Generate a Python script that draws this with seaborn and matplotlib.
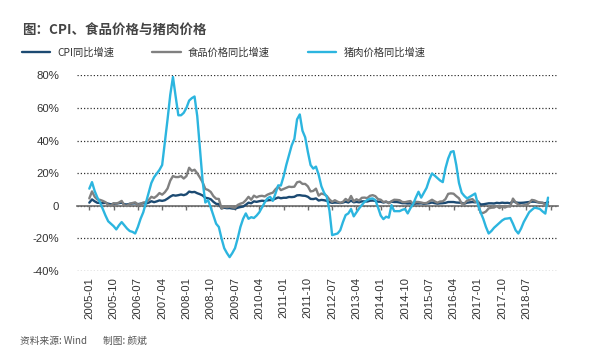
import matplotlib
matplotlib.use("Agg")
import matplotlib.pyplot as plt
import numpy as np
import pandas as pd
import seaborn as sns

# ---------------- data ----------------
months = pd.period_range("2005-01", "2019-03", freq="M").strftime("%Y-%m").tolist()

cpi = [
    1.9, 3.9, 2.7, 1.8, 1.8, 1.6, 1.8, 1.3, 0.9, 1.2, 1.3, 1.6,
    1.9, 0.9, 0.8, 1.2, 1.4, 1.5, 1.0, 1.3, 1.5, 1.4, 1.9, 2.8,
    2.2, 2.7, 3.3, 3.0, 3.4, 4.4, 5.6, 6.5, 6.2, 6.5, 6.9, 6.5,
    7.1, 8.7, 8.3, 8.5, 7.7, 7.1, 6.3, 4.9, 4.6, 4.0, 2.4, 1.2,
    1.0, -1.6, -1.2, -1.5, -1.4, -1.7, -1.8, -1.2, -0.8, -0.5, 0.6, 1.9,
    1.5, 2.7, 2.4, 2.8, 3.1, 2.9, 3.3, 3.5, 3.6, 4.4, 5.1, 4.6,
    4.9, 4.9, 5.4, 5.3, 5.5, 6.4, 6.5, 6.2, 6.1, 5.5, 4.2, 4.1,
    4.5, 3.2, 3.6, 3.4, 3.0, 2.2, 1.8, 2.0, 1.9, 1.7, 2.0, 2.5,
    2.0, 3.2, 2.1, 2.4, 2.1, 2.7, 2.7, 2.6, 3.1, 3.2, 3.0, 2.5,
    2.5, 2.0, 2.4, 1.8, 2.5, 2.3, 2.3, 2.0, 1.6, 1.6, 1.4, 1.5,
    0.8, 1.4, 1.4, 1.5, 1.2, 1.4, 1.6, 2.0, 1.6, 1.3, 1.5, 1.6,
    1.8, 2.3, 2.3, 2.3, 2.0, 1.9, 1.8, 1.3, 1.9, 2.1, 2.3, 2.1,
    2.5, 0.8, 0.9, 1.2, 1.5, 1.5, 1.4, 1.8, 1.6, 1.9, 1.7, 1.8,
    1.5, 2.9, 2.1, 1.8, 1.8, 1.9, 2.1, 2.3, 2.5, 2.5, 2.2, 1.9,
    1.7, 1.5, 2.3,
]

food = [
    4.5, 8.8, 5.5, 3.8, 3.6, 3.0, 2.2, 0.6, 0.1, 1.6, 1.3, 2.0,
    3.0, 0.2, 0.1, 1.2, 1.7, 2.1, 0.7, 1.1, 2.0, 2.2, 3.5, 5.5,
    4.8, 6.0, 7.8, 6.8, 8.3, 10.6, 15.4, 18.2, 17.6, 17.6, 18.2, 16.7,
    18.2, 23.3, 21.4, 22.1, 19.9, 17.3, 14.4, 10.3, 9.7, 8.5, 5.9, 4.3,
    4.2, -1.7, -0.6, -0.9, -0.5, -1.0, -1.2, 0.5, 1.3, 1.8, 3.4, 5.5,
    3.7, 6.2, 5.2, 5.9, 6.1, 5.7, 6.8, 7.5, 8.0, 10.1, 11.7, 9.6,
    10.3, 11.0, 11.7, 11.5, 11.7, 14.4, 14.8, 13.4, 13.4, 11.9, 8.8, 9.1,
    10.5, 6.2, 7.5, 7.0, 6.0, 3.9, 2.4, 3.4, 2.5, 1.8, 2.4, 4.2,
    2.9, 6.0, 2.7, 4.0, 3.2, 4.9, 5.0, 4.7, 6.1, 6.5, 5.9, 4.1,
    3.7, 2.3, 2.7, 1.5, 2.8, 3.7, 3.6, 3.4, 2.3, 2.2, 2.6, 2.9,
    1.1, 2.4, 2.3, 2.0, 1.6, 1.7, 2.7, 3.7, 2.7, 1.9, 2.6, 2.7,
    4.1, 7.3, 7.6, 7.4, 5.9, 4.6, 1.3, 1.3, 3.2, 3.7, 4.1, 2.4,
    2.7, -4.3, -4.4, -3.5, -1.6, -1.2, -1.1, -0.2, -1.4, -0.4, -1.1, -0.4,
    -0.5, 4.4, 2.1, 0.7, 0.1, 0.3, 0.5, 1.7, 3.6, 3.3, 2.5, 1.9,
    1.9, 0.7, 1.0,
]

pork = [
    10.5, 14.5, 9, 5, 2, -2, -6, -9.5, -11, -12.5, -14.5, -12,
    -10, -12, -14, -15.5, -16, -17, -13, -8, -4, 2, 8, 14,
    17.5, 19.8, 22, 25, 39, 53, 68, 79, 67, 55.5, 55.5, 57,
    60, 64.5, 66, 67, 55, 35, 15, 2, 3.5, -1, -6, -11,
    -13, -20, -26, -29, -31.5, -29, -26, -20, -13, -8, -4.7, -8,
    -7, -7.5, -6, -4, -1, 2, 4.5, 5.5, 3, 7.5, 12.5, 12.4,
    18, 25, 31, 37, 41, 53, 56, 46, 42, 33, 25, 22.8,
    24, 19, 12, 8, 5.5, -3, -18, -17.5, -17, -15, -10, -5.7,
    -4.7, -2, -6.5, -4, -1.6, 0.5, 2.4, 3.5, 4.3, 4.5, 3.5, -1,
    -6, -8.2, -6.7, -7.3, 0.4, -3.3, -3.3, -3.3, -2.5, -2, -4.7, -1.5,
    1, 5, 8.6, 5, 8, 11, 16, 19.8, 18.5, 17, 15.5, 14.5,
    23, 29, 33, 33.5, 25, 14, 8, 6, 4.5, 5.5, 6.5, 7.5,
    1, -4, -8, -13, -17, -15.5, -13.5, -12, -10.5, -9, -8, -7.8,
    -7.5, -11, -15, -17, -14, -10, -7, -4, -2.5, -1.2, -1.5, -2,
    -3.5, -4.8, 5,
]

series_names = ["CPI同比增速", "食品价格同比增速", "猪肉价格同比增速"]
series_colors = ["#1c4a72", "#808080", "#2cb5df"]
tick_labels = months[::9]          # 2005-01 ... 2018-07
yticks = [-40, -20, 0, 20, 40, 60, 80]
ytick_labels = ["-40%", "-20%", "0", "20%", "40%", "60%", "80%"]

# ---------------- style ----------------
sns.set_theme(style="white")
plt.rcParams["font.family"] = ["Liberation Sans", "Noto Sans CJK SC", "DejaVu Sans"]
cjk = ["Noto Sans CJK SC", "DejaVu Sans"]

W, H = 603, 356
fig = plt.figure(figsize=(W / 100, H / 100), dpi=100)
ax = fig.add_axes([77 / W, 1 - 271 / H, (558 - 77) / W, (271 - 75.3) / H])

df = pd.DataFrame({"idx": np.arange(len(months)),
                   series_names[0]: cpi,
                   series_names[1]: food,
                   series_names[2]: pork})
long = df.melt(id_vars="idx", var_name="series", value_name="value")
sns.lineplot(data=long, x="idx", y="value", hue="series",
             hue_order=series_names, palette=series_colors,
             linewidth=1.7, ax=ax, legend=False)

ax.set_xlim(-4.56, 173.7)
ax.set_ylim(-40, 80)
ax.set_xlabel("")
ax.set_ylabel("")

# grid
ax.set_axisbelow(True)
ax.yaxis.grid(True, linestyle=(0, (1, 1.6)), color="#333333", linewidth=0.9)
ax.xaxis.grid(False)

# spines
for s in ["left", "top", "right"]:
    ax.spines[s].set_visible(False)
ax.spines["bottom"].set_position(("data", 0))
ax.spines["bottom"].set_color("#6b6b6b")
ax.spines["bottom"].set_linewidth(1.2)
ax.spines["bottom"].set_zorder(1.5)

# ticks
xt = list(range(0, len(months) + 1, 9))
ax.set_xticks(xt, tick_labels + [""] * (len(xt) - len(tick_labels)))
ax.tick_params(axis="x", direction="out", length=3, width=1, color="#6b6b6b",
               pad=48.5, labelsize=8.2, labelrotation=90, labelcolor="#333333",
               bottom=True)
ax.set_yticks(yticks, ytick_labels)
ax.tick_params(axis="y", length=0, pad=12.7, labelsize=8.2, labelcolor="#333333")

# title
fig.text(22 / W, 1 - 29.5 / H, "图：CPI、食品价格与猪肉价格", fontsize=9.7,
         fontweight="bold", color="#444444", va="center", ha="left", family=cjk)

# legend
handles = ax.get_lines()[:3]
fig.legend(handles, series_names, loc="center left",
           bbox_to_anchor=(22 / W, 1 - 52.5 / H), ncol=3, frameon=False,
           prop={"family": cjk, "size": 7.4}, labelcolor="#333333",
           handlelength=2.75, handletextpad=0.7, columnspacing=3.7,
           borderpad=0, borderaxespad=0)

# source
fig.text(20 / W, 1 - 341 / H, "资料来源: Wind", fontsize=7, style="italic",
         color="#555555", va="center", ha="left", family=cjk)
fig.text(103 / W, 1 - 341 / H, "制图: 颜斌", fontsize=7, style="italic",
         color="#555555", va="center", ha="left", family=cjk)

fig.savefig("out.png", dpi=100)
